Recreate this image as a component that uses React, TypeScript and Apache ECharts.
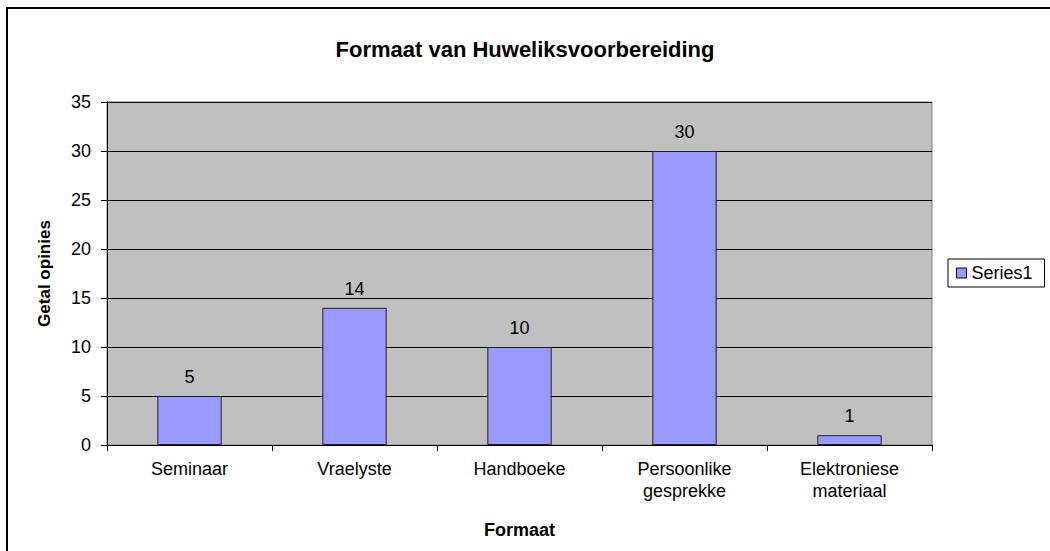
import React, { useEffect, useRef } from "react";
import * as echarts from "echarts";

const categories = ["Seminaar", "Vraelyste", "Handboeke", "Persoonlike\ngesprekke", "Elektroniese\nmateriaal"];
const values = [5, 14, 10, 30, 1];
const seriesName = "Series1";
const titleText = "Formaat van Huweliksvoorbereiding";
const yName = "Getal opinies";
const xName = "Formaat";

export default function App() {
  const ref = useRef<HTMLDivElement>(null);
  useEffect(() => {
    const chart = echarts.init(ref.current!, undefined, { renderer: "svg" });
    const font = "Arial, 'Liberation Sans', sans-serif";
    chart.setOption({
      animation: false,
      backgroundColor: "#fff",
      title: {
        text: titleText,
        left: "center",
        top: 33,
        textStyle: { fontFamily: font, fontSize: 22, fontWeight: "bold", color: "#000" },
      },
      legend: {
        data: [seriesName],
        left: 948,
        top: 259,
        orient: "vertical",
        padding: [5, 12, 5, 8],
        itemWidth: 10,
        itemHeight: 10,
        itemGap: 5,
        borderColor: "#000",
        borderWidth: 1,
        icon: "rect",
        itemStyle: { borderColor: "#000", borderWidth: 1 },
        textStyle: { fontFamily: font, fontSize: 18, color: "#000" },
      },
      grid: {
        left: 107,
        top: 102,
        width: 825,
        height: 343,
        show: true,
        backgroundColor: "#c0c0c0",
        borderColor: "#808080",
        borderWidth: 1,
      },
      xAxis: {
        type: "category",
        data: categories,
        name: xName,
        nameLocation: "middle",
        nameGap: 76,
        nameTextStyle: { fontFamily: font, fontSize: 18, fontWeight: "bold", color: "#000" },
        axisLine: { lineStyle: { color: "#000", width: 1 } },
        axisTick: { show: true, length: 6, lineStyle: { color: "#000" } },
        axisLabel: { fontFamily: font, fontSize: 18, color: "#000", margin: 13, lineHeight: 22 },
      },
      yAxis: {
        type: "value",
        min: 0,
        max: 35,
        interval: 5,
        name: yName,
        nameLocation: "middle",
        nameGap: 54,
        nameTextStyle: { fontFamily: font, fontSize: 17, fontWeight: "bold", color: "#000" },
        axisLine: { show: true, lineStyle: { color: "#000", width: 1 } },
        axisTick: { show: true, length: 6, lineStyle: { color: "#000" } },
        axisLabel: { fontFamily: font, fontSize: 18, color: "#000", margin: 16 },
        splitLine: { lineStyle: { color: "#000", width: 1 } },
      },
      series: [
        {
          name: seriesName,
          type: "bar",
          data: values,
          barWidth: "39%",
          itemStyle: { color: "#9999ff", borderColor: "#222", borderWidth: 1 },
          label: {
            show: true,
            position: "top",
            distance: 10,
            fontFamily: font,
            fontSize: 18,
            color: "#000",
          },
        },
      ],
      graphic: [
        {
          type: "rect",
          shape: { x: 7, y: 8, width: 1200, height: 700 },
          style: { fill: "none", stroke: "#000", lineWidth: 2 },
          silent: true,
        },
      ],
    });
    return () => chart.dispose();
  }, []);
  return (
    <div
      ref={ref}
      style={{ position: "absolute", left: 0, top: 0, width: 1050, height: 551 }}
    />
  );
}
